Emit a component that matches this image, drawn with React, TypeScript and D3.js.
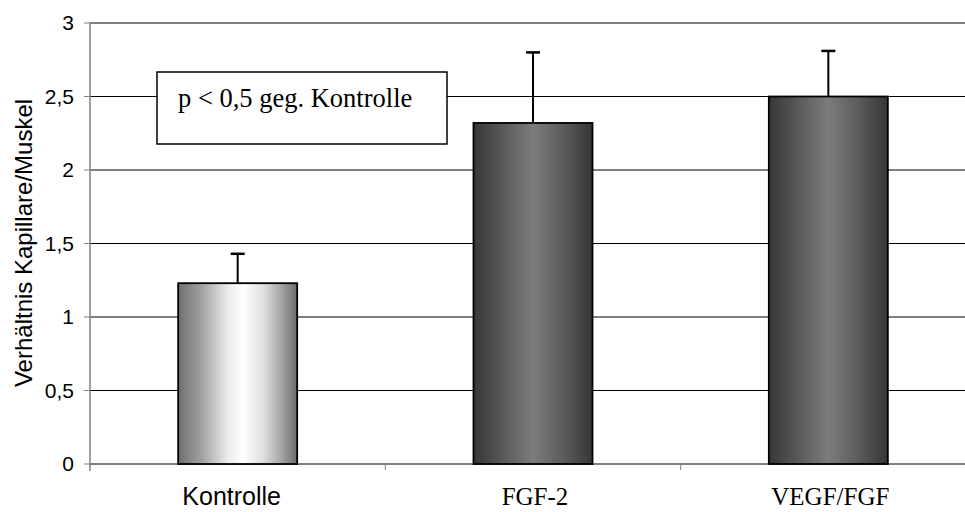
import * as d3 from 'd3';

const categories = ['Kontrolle', 'FGF-2', 'VEGF/FGF'];
const values = [1.23, 2.32, 2.5];
const errors = [0.2, 0.48, 0.31];
const yTicks = [0, 0.5, 1, 1.5, 2, 2.5, 3];
const yTickLabels = ['0', '0,5', '1', '1,5', '2', '2,5', '3'];
const labelFonts = ['Liberation Sans, Arial, sans-serif', 'Liberation Serif, Times New Roman, serif', 'Liberation Serif, Times New Roman, serif'];
const gradients = ['gradLight', 'gradDark', 'gradDark'];

export default function App() {
  const width = 965;
  const height = 512;
  const margin = { top: 23, left: 90, bottom: 48 };
  const plotRight = 976;

  const x = d3.scaleBand<string>().domain(categories).range([margin.left, plotRight]).padding(0);
  const y = d3.scaleLinear().domain([0, 3]).range([height - margin.bottom, margin.top]);
  const barW = x.bandwidth() * 0.403;

  return (
    <svg width={width} height={height} style={{ position: 'absolute', left: 0, top: 0, background: '#fff' }}>
      <defs>
        <linearGradient id="gradLight" x1="0" x2="1" y1="0" y2="0">
          <stop offset="0" stopColor="#6e6e6e" />
          <stop offset="0.2" stopColor="#a2a2a2" />
          <stop offset="0.42" stopColor="#ececec" />
          <stop offset="0.55" stopColor="#ffffff" />
          <stop offset="0.72" stopColor="#dedede" />
          <stop offset="0.88" stopColor="#a0a0a0" />
          <stop offset="1" stopColor="#6a6a6a" />
        </linearGradient>
        <linearGradient id="gradDark" x1="0" x2="1" y1="0" y2="0">
          <stop offset="0" stopColor="#363636" />
          <stop offset="0.25" stopColor="#5a5a5a" />
          <stop offset="0.5" stopColor="#7c7c7c" />
          <stop offset="0.75" stopColor="#5c5c5c" />
          <stop offset="1" stopColor="#363636" />
        </linearGradient>
      </defs>

      {/* gridlines */}
      {yTicks.map((t) => (
        <line key={t} x1={margin.left} x2={width} y1={y(t)} y2={y(t)} stroke="#000" strokeWidth={1} />
      ))}

      {/* y axis */}
      <line x1={margin.left} x2={margin.left} y1={y(3)} y2={y(0) + 7} stroke="#808080" strokeWidth={1.5} />
      {yTicks.map((t, i) => (
        <g key={t}>
          <line x1={margin.left - 6} x2={margin.left} y1={y(t)} y2={y(t)} stroke="#808080" strokeWidth={1} />
          <text x={74} y={y(t)} dy="0.35em" textAnchor="end" fontFamily="Liberation Sans, Arial, sans-serif" fontSize={21}>
            {yTickLabels[i]}
          </text>
        </g>
      ))}

      {/* x ticks at category boundaries */}
      {categories.slice(1).map((c) => (
        <line key={c} x1={x(c)!} x2={x(c)!} y1={y(0)} y2={y(0) + 6} stroke="#808080" strokeWidth={1} />
      ))}

      {/* bars and error bars */}
      {categories.map((c, i) => {
        const cx = x(c)! + x.bandwidth() / 2;
        return (
          <g key={c}>
            <rect x={cx - barW / 2} y={y(values[i])} width={barW} height={y(0) - y(values[i])}
              fill={`url(#${gradients[i]})`} stroke="#000" strokeWidth={1.8} />
            <line x1={cx} x2={cx} y1={y(values[i])} y2={y(values[i] + errors[i])} stroke="#000" strokeWidth={2} />
            <line x1={cx - 7} x2={cx + 7} y1={y(values[i] + errors[i])} y2={y(values[i] + errors[i])} stroke="#000" strokeWidth={2.5} />
            <text x={i === 0 ? cx - 6 : cx + 2} y={505} textAnchor="middle" fontFamily={labelFonts[i]} fontSize={25}>
              {c}
            </text>
          </g>
        );
      })}

      {/* y title */}
      <text transform={`translate(32,243) rotate(-90)`} textAnchor="middle" fontFamily="Liberation Sans, Arial, sans-serif" fontSize={24}>
        Verhältnis Kapillare/Muskel
      </text>

      {/* annotation */}
      <rect x={157} y={72} width={290} height={72} fill="#fff" stroke="#000" strokeWidth={1.5} />
      <text x={178} y={107} fontFamily="Liberation Serif, Times New Roman, serif" fontSize={26.5}>
        p &lt; 0,5 geg. Kontrolle
      </text>
    </svg>
  );
}
